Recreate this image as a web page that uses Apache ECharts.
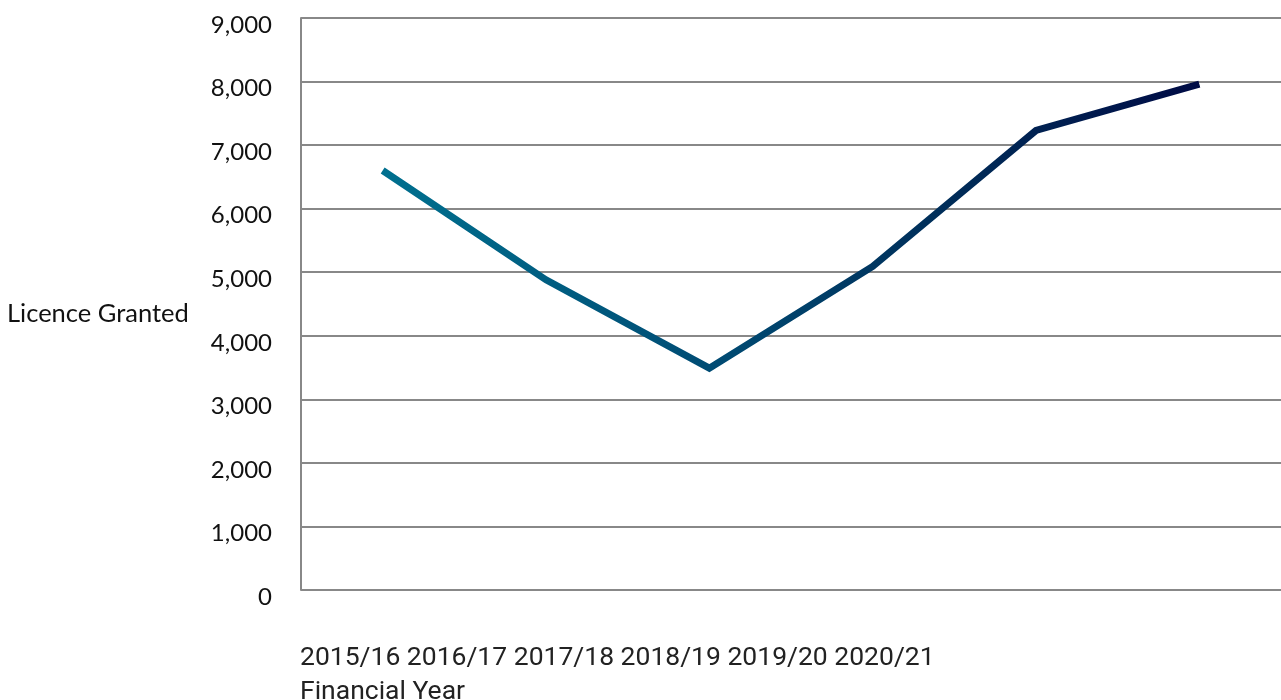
<!DOCTYPE html>
<html>
<head>
<meta charset="utf-8">
<script src="https://cdn.jsdelivr.net/npm/echarts@6/dist/echarts.min.js"></script>
<style>
html,body{margin:0;padding:0;background:#fff;}
#chart{width:1281px;height:700px;}
</style>
</head>
<body>
<div id="chart"></div>
<script>
const categories = ['2015/16','2016/17','2017/18','2018/19','2019/20','2020/21'];
const licencesGranted = [6600, 4880, 3490, 5090, 7230, 7960];
const yTicks = { min: 0, max: 9000, interval: 1000 };
const yAxisTitle = 'Licence Granted';
const xAxisTitle = 'Financial Year';

const chart = echarts.init(document.getElementById('chart'), null, {renderer:'canvas'});
chart.setOption({
  animation: false,
  grid: { left: 301, right: 0, top: 18, bottom: 110, containLabel: false },
  xAxis: {
    type: 'category',
    data: categories,
    boundaryGap: true,
    axisLine: { show: false },
    axisTick: { show: false },
    axisLabel: { show: false }
  },
  yAxis: {
    type: 'value',
    min: yTicks.min, max: yTicks.max, interval: yTicks.interval,
    axisLine: { show: true, lineStyle: { color: '#888888', width: 2 } },
    axisTick: { show: false },
    axisLabel: {
      margin: 29,
      fontFamily: 'Lato', fontSize: 24, color: '#111',
      verticalAlign: 'top',
      lineHeight: 14,
      formatter: v => v.toLocaleString('en-US')
    },
    splitLine: { show: true, lineStyle: { color: '#888888', width: 2 } }
  },
  graphic: [
    { type: 'text', x: 7, y: 314,
      style: { text: yAxisTitle, fontFamily: 'Lato', fontSize: 25.5, fill: '#111', verticalAlign: 'middle', align: 'left' } },
    { type: 'text', x: 300, y: 658,
      style: { text: categories.join(' '), fontFamily: 'Roboto', fontSize: 26.5, fill: '#222', verticalAlign: 'middle', align: 'left' } },
    { type: 'text', x: 300, y: 692,
      style: { text: xAxisTitle, fontFamily: 'Roboto', fontSize: 26.5, fill: '#222', verticalAlign: 'middle', align: 'left' } }
  ],
  series: [{
    type: 'line',
    data: licencesGranted,
    symbol: 'none',
    lineStyle: {
      width: 7,
      cap: 'butt',
      join: 'miter',
      color: new echarts.graphic.LinearGradient(0, 0, 1, 0, [
        { offset: 0, color: '#00708f' },
        { offset: 0.4, color: '#004c74' },
        { offset: 0.7, color: '#002c58' },
        { offset: 1, color: '#000b45' }
      ])
    }
  }]
});
</script>
</body>
</html>
